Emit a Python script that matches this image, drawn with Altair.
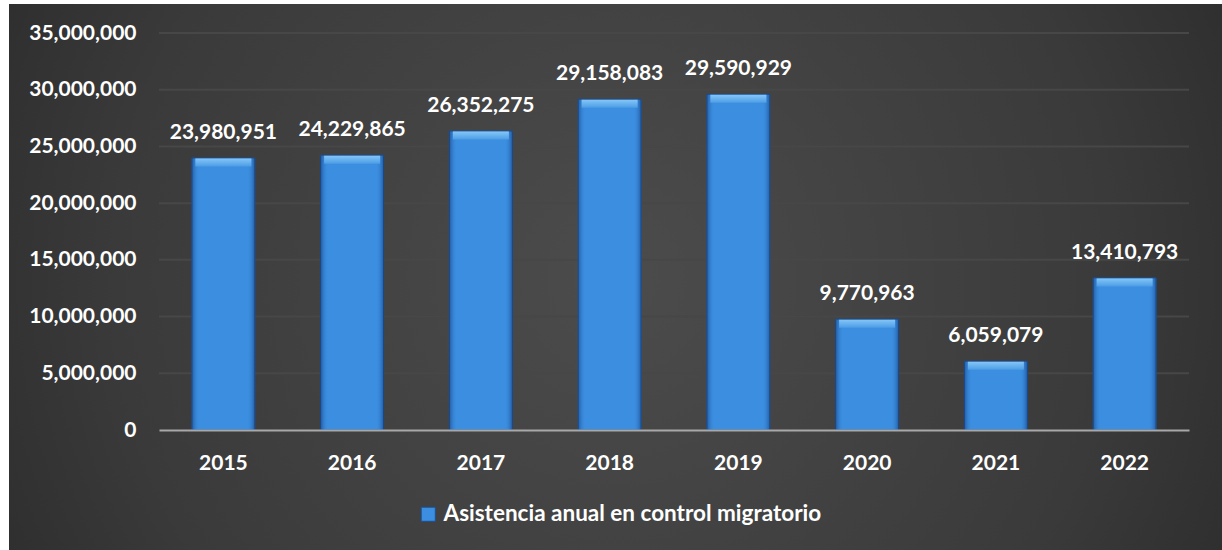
import altair as alt
import pandas as pd

years = ["2015", "2016", "2017", "2018", "2019", "2020", "2021", "2022"]
values = [23980951, 24229865, 26352275, 29158083, 29590929, 9770963, 6059079, 13410793]
series_name = "Asistencia anual en control migratorio"
y_ticks = [0, 5000000, 10000000, 15000000, 20000000, 25000000, 30000000, 35000000]

df = pd.DataFrame({"year": years, "value": values, "serie": [series_name] * len(years)})
grid_df = pd.DataFrame({"tick": y_ticks[1:]})
bg_df = pd.DataFrame({"k": [0]})

W, H = 1030, 397
FONT = "Lato"

xscale = alt.Scale(paddingInner=0.51, paddingOuter=0.255)
yscale = alt.Scale(domain=[0, 35000000])

bg = alt.Chart(bg_df).mark_rect(
    fill=alt.RadialGradient(
        gradient="radial",
        stops=[alt.GradientStop(offset=0, color="#4c4c4c"),
               alt.GradientStop(offset=0.55, color="#3a3a3a"),
               alt.GradientStop(offset=1, color="#1f1f1f")],
        x1=0.5, y1=0.5, r1=0, x2=0.5, y2=0.5, r2=0.75,
    )
).encode(x=alt.value(-150), x2=alt.value(1063), y=alt.value(-29), y2=alt.value(517))

grid = alt.Chart(grid_df).mark_rule(color="#474747", strokeWidth=2).encode(
    y=alt.Y("tick:Q", scale=yscale),
    x=alt.value(0), x2=alt.value(W),
)

x_enc = alt.X("year:N", scale=xscale, sort=years,
              axis=alt.Axis(title=None, labelAngle=0, ticks=False, grid=False,
                            domainColor="#a8a8a8", domainWidth=2,
                            labelColor="white", labelFont=FONT, labelFontSize=21,
                            labelFontWeight="bold", labelPadding=22, zindex=1))
y_enc = alt.Y("value:Q", scale=yscale,
              axis=alt.Axis(title=None, values=y_ticks, format=",d", ticks=False,
                            grid=False, domain=False,
                            labelColor="white", labelFont=FONT, labelFontSize=21,
                            labelFontWeight="bold", labelPadding=23, zindex=1))

bars = alt.Chart(df).mark_bar(stroke="#1d4f8f", strokeWidth=1).encode(
    x=x_enc, y=y_enc,
    color=alt.Color("serie:N", scale=alt.Scale(range=["#3b8ee0"]),
                    legend=alt.Legend(title=None, orient="none", legendX=258, legendY=470,
                                      symbolType="square", symbolSize=200,
                                      symbolStrokeColor="#1d4f8f", symbolStrokeWidth=1,
                                      labelColor="white", labelFont=FONT, labelFontSize=22.5,
                                      labelFontWeight="bold", labelLimit=1000,
                                      symbolOpacity=1)),
)

shade = alt.Chart(df).mark_bar(
    fill=alt.LinearGradient(
        gradient="linear",
        stops=[alt.GradientStop(offset=0, color="rgba(15,50,110,0.55)"),
               alt.GradientStop(offset=0.12, color="rgba(60,140,225,0)"),
               alt.GradientStop(offset=0.88, color="rgba(60,140,225,0)"),
               alt.GradientStop(offset=1, color="rgba(15,50,110,0.55)")],
        x1=0, x2=1, y1=0, y2=0,
    )
).encode(x=alt.X("year:N", scale=xscale, sort=years), y=alt.Y("value:Q", scale=yscale))

cap = alt.Chart(df).mark_tick(
    color=alt.LinearGradient(
        gradient="linear",
        stops=[alt.GradientStop(offset=0, color="#84c6f8"),
               alt.GradientStop(offset=1, color="#4c9de6")],
        x1=0, x2=0, y1=0, y2=1,
    ),
    thickness=8, size=56, yOffset=4.5, opacity=1,
).encode(x=alt.X("year:N", scale=xscale, sort=years), y=alt.Y("value:Q", scale=yscale))

labels = alt.Chart(df).mark_text(
    baseline="alphabetic", dy=-19, color="white", font=FONT, fontSize=21, fontWeight="bold"
).encode(x=alt.X("year:N", scale=xscale, sort=years), y=alt.Y("value:Q", scale=yscale),
         text=alt.Text("value:Q", format=",d"))

chart = alt.layer(bg, grid, bars, shade, cap, labels).properties(
    width=W, height=H,
    autosize=alt.AutoSizeParams(type="none"),
    padding={"left": 159, "top": 33, "right": 33, "bottom": 120},
    background="white",
).configure_view(stroke=None)

chart.save("out.html", embed_options={"renderer": "svg", "actions": False})
